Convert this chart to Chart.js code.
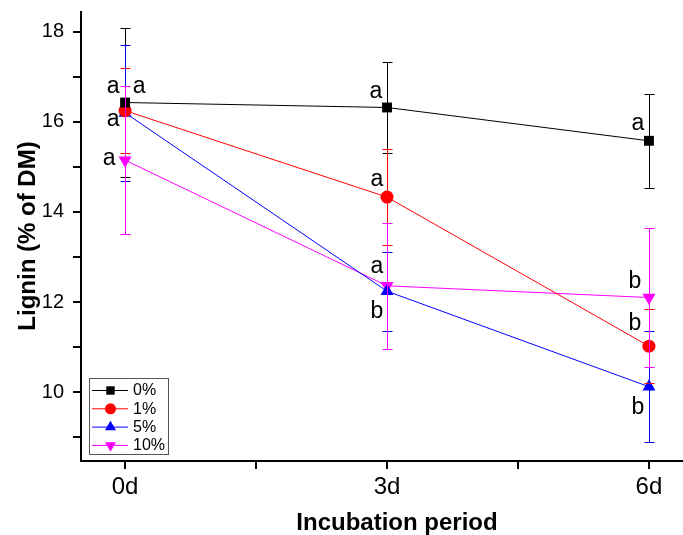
<!DOCTYPE html>
<html>
<head>
<meta charset="utf-8">
<script src="https://cdn.jsdelivr.net/npm/chart.js@4/dist/chart.umd.min.js"></script>
<style>
  html, body { margin: 0; padding: 0; background: #fff; }
  #wrap { width: 683px; height: 535px; }
</style>
</head>
<body>
<div id="wrap"><canvas id="lignin-chart" width="683" height="535"></canvas></div>
<script>
// Incubation days and their tick labels
const days = [0, 3, 6];
const dayLabels = ['0d', '3d', '6d'];

// Lignin (% of DM), mean and error per treatment level
const lignin0 = [16.43, 16.32, 15.58];
const err0 = [1.65, 1.02, 1.05];
const lignin1 = [16.25, 14.33, 11.02];
const err1 = [0.95, 1.07, 0.82];
const lignin5 = [16.20, 12.24, 10.12];
const err5 = [1.51, 0.88, 1.23];
const lignin10 = [15.15, 12.36, 12.10];
const err10 = [1.65, 1.40, 1.55];

// significance letters
const letters0 = ['a', 'a', 'a'];
const letters1 = ['a', 'a', 'b'];
const letters5 = ['a', 'b', 'b'];
const letters10 = ['a', 'a', 'b'];

const yTicks = [9, 10, 11, 12, 13, 14, 15, 16, 17, 18];
const xTicks = [0, 1.5, 3, 4.5, 6];

const FONT = '"Liberation Sans", Arial, sans-serif';

function toPoints(values) {
    return days.map((d, i) => ({ x: d, y: values[i] }));
}

const series = [
    { label: '0%', values: lignin0, errs: err0, letters: letters0, color: '#000000', style: 'rect', radius: 7, rotation: 0 },
    { label: '1%', values: lignin1, errs: err1, letters: letters1, color: '#ff0000', style: 'circle', radius: 6.5, rotation: 0 },
    { label: '5%', values: lignin5, errs: err5, letters: letters5, color: '#0000ff', style: 'triangle', radius: 7.5, rotation: 0 },
    { label: '10%', values: lignin10, errs: err10, letters: letters10, color: '#ff00ff', style: 'triangle', radius: 7.5, rotation: 180 }
];

// where each letter sits relative to its point (px)
const letterOffsets = [
    [[14, -16], [-11, -16], [-11, -17]],
    [[-12, -24], [-10, -18], [-14, -25]],
    [[-12, 7], [-10, 18], [-11, 18]],
    [[-16, -2], [-10, -19], [-14, -19]]
];

function drawMarker(ctx, style, x, y, r, rotation, color) {
    ctx.save();
    ctx.fillStyle = color;
    ctx.beginPath();
    if (style === 'rect') {
        const s = Math.SQRT1_2 * r;
        ctx.rect(x - s, y - s, 2 * s, 2 * s);
    } else if (style === 'circle') {
        ctx.arc(x, y, r, 0, Math.PI * 2);
    } else {
        let rad = rotation * Math.PI / 180;
        ctx.moveTo(x + Math.sin(rad) * r, y - Math.cos(rad) * r);
        rad += Math.PI * 2 / 3;
        ctx.lineTo(x + Math.sin(rad) * r, y - Math.cos(rad) * r);
        rad += Math.PI * 2 / 3;
        ctx.lineTo(x + Math.sin(rad) * r, y - Math.cos(rad) * r);
        ctx.closePath();
    }
    ctx.fill();
    ctx.restore();
}

const errorBars = {
    id: 'errorBars',
    afterDatasetsDraw(chart) {
        const ctx = chart.ctx;
        const yScale = chart.scales.y;
        series.forEach((s, i) => {
            const meta = chart.getDatasetMeta(i);
            ctx.save();
            ctx.strokeStyle = s.color;
            ctx.lineWidth = 1;
            meta.data.forEach((pt, j) => {
                const x = Math.round(pt.x) + 0.5;
                const top = Math.round(yScale.getPixelForValue(s.values[j] + s.errs[j])) + 0.5;
                const bot = Math.round(yScale.getPixelForValue(s.values[j] - s.errs[j])) + 0.5;
                ctx.beginPath();
                ctx.moveTo(x, top); ctx.lineTo(x, bot);
                ctx.moveTo(x - 5, top); ctx.lineTo(x + 5, top);
                ctx.moveTo(x - 5, bot); ctx.lineTo(x + 5, bot);
                ctx.stroke();
            });
            ctx.restore();
        });
    }
};

const decorations = {
    id: 'decorations',
    afterDraw(chart) {
        const ctx = chart.ctx;
        // letters
        ctx.save();
        ctx.fillStyle = '#000';
        ctx.font = '23px ' + FONT;
        ctx.textAlign = 'center';
        ctx.textBaseline = 'alphabetic';
        series.forEach((s, i) => {
            const meta = chart.getDatasetMeta(i);
            meta.data.forEach((pt, j) => {
                const t = s.letters[j];
                const m = ctx.measureText(t);
                const cx = pt.x + letterOffsets[i][j][0];
                const cy = pt.y + letterOffsets[i][j][1];
                ctx.fillText(t, cx, cy + (m.actualBoundingBoxAscent - m.actualBoundingBoxDescent) / 2);
            });
        });
        ctx.restore();

        // legend box
        ctx.save();
        ctx.strokeStyle = '#555';
        ctx.lineWidth = 1;
        ctx.strokeRect(89.5, 378.5, 79, 76);
        ctx.font = '16px ' + FONT;
        ctx.textBaseline = 'middle';
        ctx.textAlign = 'left';
        series.forEach((s, i) => {
            const y = 390 + i * 18.3;
            ctx.strokeStyle = s.color;
            ctx.beginPath();
            ctx.moveTo(92, y + 0.5); ctx.lineTo(128, y + 0.5);
            ctx.stroke();
            drawMarker(ctx, s.style, 110.5, y + 0.5, s.radius * 0.85, s.rotation, s.color);
            ctx.fillStyle = '#000';
            ctx.fillText(s.label, 133, y + 1);
        });
        ctx.restore();

        // axis titles
        ctx.save();
        ctx.fillStyle = '#000';
        ctx.font = 'bold 24px ' + FONT;
        ctx.textAlign = 'center';
        ctx.textBaseline = 'middle';
        ctx.fillText('Incubation period', 397, 523);
        ctx.translate(28, 236);
        ctx.rotate(-Math.PI / 2);
        ctx.fillText('Lignin (% of DM)', 0, 0);
        ctx.restore();
    }
};

function noScalePadding(scale) {
    scale.paddingLeft = 0;
    scale.paddingRight = 0;
    scale.paddingTop = 0;
    scale.paddingBottom = 0;
}

const ctx = document.getElementById('lignin-chart').getContext('2d');

const ligninChart = new Chart(ctx, {
    type: 'line',
    data: {
        datasets: series.map(s => ({
            label: s.label,
            data: toPoints(s.values),
            borderColor: s.color,
            backgroundColor: s.color,
            borderWidth: 1,
            pointStyle: s.style,
            pointRadius: s.radius,
            pointRotation: s.rotation,
            pointBorderWidth: 0,
            pointBackgroundColor: s.color,
            fill: false,
            tension: 0
        }))
    },
    options: {
        responsive: false,
        animation: false,
        layout: { autoPadding: false, padding: { top: 12, left: 0, right: 0, bottom: 0 } },
        plugins: {
            legend: { display: false },
            tooltip: { enabled: false }
        },
        scales: {
            x: {
                type: 'linear',
                position: 'bottom',
                min: -0.505,
                max: 6.39,
                afterBuildTicks: scale => { scale.ticks = xTicks.map(v => ({ value: v })); },
                afterFit: scale => { scale.height = 74; noScalePadding(scale); },
                grid: { display: true, drawOnChartArea: false, drawTicks: true, tickLength: 8, color: '#000', lineWidth: 2 },
                border: { display: true, color: '#000', width: 2 },
                ticks: {
                    color: '#000',
                    font: { family: FONT, size: 24 },
                    padding: 4,
                    maxRotation: 0,
                    autoSkip: false,
                    callback: v => {
                        const i = days.indexOf(v);
                        return i >= 0 ? dayLabels[i] : '';
                    }
                }
            },
            y: {
                type: 'linear',
                min: 8.47,
                max: 18.44,
                afterBuildTicks: scale => { scale.ticks = yTicks.map(v => ({ value: v })); },
                afterFit: scale => { scale.width = 81; noScalePadding(scale); },
                grid: { display: true, drawOnChartArea: false, drawTicks: true, tickLength: 8, color: '#000', lineWidth: 2 },
                border: { display: true, color: '#000', width: 2 },
                ticks: {
                    color: '#000',
                    font: { family: FONT, size: 20 },
                    padding: 9,
                    autoSkip: false,
                    callback: v => (v % 2 === 0 ? String(v) : '')
                }
            }
        }
    },
    plugins: [errorBars, decorations]
});
</script>
</body>
</html>
